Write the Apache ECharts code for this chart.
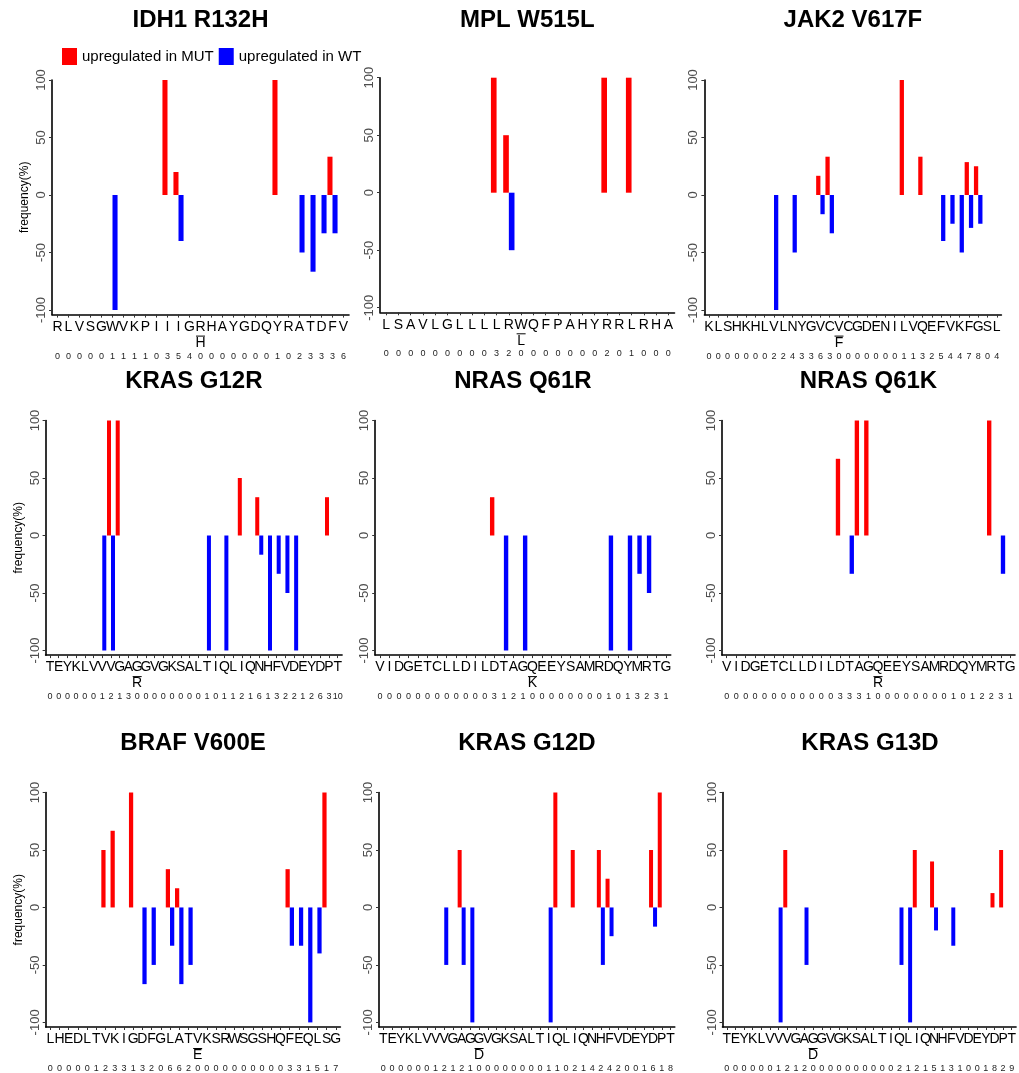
<!DOCTYPE html>
<html>
<head>
<meta charset="utf-8">
<script src="https://cdn.jsdelivr.net/npm/echarts@6/dist/echarts.min.js"></script>
<style>
  html, body { margin: 0; padding: 0; background: #fff; }
  #chart { width: 1019px; height: 1073px; }
</style>
</head>
<body>
<div id="chart"></div>
<script>
// Peptide residues around each hotspot, per-residue counts and frequencies (%)
const idh1Title = 'IDH1 R132H';
const idh1Residues = 'RLVSGWVKPIIIGRHAYGDQYRATDFV'.split('');
const idh1Mutation = { index: 13, residue: 'H' };
const idh1Counts = [0,0,0,0,0,1,1,1,1,0,3,5,4,0,0,0,0,0,0,0,1,0,2,3,3,3,6];
const idh1UpMut = [0,0,0,0,0,0,0,0,0,0,100,20,0,0,0,0,0,0,0,0,100,0,0,0,0,33.3,0];
const idh1UpWt  = [0,0,0,0,0,-100,0,0,0,0,0,-40,0,0,0,0,0,0,0,0,0,0,-50,-66.7,-33.3,-33.3,0];

const mplTitle = 'MPL W515L';
const mplResidues = 'LSAVLGLLLLRWQFPAHYRRLRHA'.split('');
const mplMutation = { index: 11, residue: 'L' };
const mplCounts = [0,0,0,0,0,0,0,0,0,3,2,0,0,0,0,0,0,0,2,0,1,0,0,0];
const mplUpMut = [0,0,0,0,0,0,0,0,0,100,50,0,0,0,0,0,0,0,100,0,100,0,0,0];
const mplUpWt  = [0,0,0,0,0,0,0,0,0,0,-50,0,0,0,0,0,0,0,0,0,0,0,0,0];

const jak2Title = 'JAK2 V617F';
const jak2Residues = 'KLSHKHLVLNYGVCVCGDENILVQEFVKFGSL'.split('');
const jak2Mutation = { index: 14, residue: 'F' };
const jak2Counts = [0,0,0,0,0,0,0,2,2,4,3,3,6,3,0,0,0,0,0,0,0,1,1,3,2,5,4,4,7,8,0,4];
const jak2UpMut = [0,0,0,0,0,0,0,0,0,0,0,0,16.7,33.3,0,0,0,0,0,0,0,100,0,33.3,0,0,0,0,28.6,25,0,0];
const jak2UpWt  = [0,0,0,0,0,0,0,-100,0,-50,0,0,-16.7,-33.3,0,0,0,0,0,0,0,0,0,0,0,-40,-25,-50,-28.6,-25,0,0];

const krasG12rTitle = 'KRAS G12R';
const krasG12rResidues = 'TEYKLVVVGAGGVGKSALTIQLIQNHFVDEYDPT'.split('');
const krasG12rMutation = { index: 10, residue: 'R' };
const krasG12rCounts = [0,0,0,0,0,0,1,2,1,3,0,0,0,0,0,0,0,0,1,0,1,1,2,1,6,1,3,2,2,1,2,6,3,10];
const krasG12rUpMut = [0,0,0,0,0,0,0,100,100,0,0,0,0,0,0,0,0,0,0,0,0,0,50,0,33.3,0,0,0,0,0,0,0,33.3,0];
const krasG12rUpWt  = [0,0,0,0,0,0,-100,-100,0,0,0,0,0,0,0,0,0,0,-100,0,-100,0,0,0,-16.7,-100,-33.3,-50,-100,0,0,0,0,0];

const nrasQ61rTitle = 'NRAS Q61R';
const nrasQ61rResidues = 'VIDGETCLLDILDTAGQEEYSAMRDQYMRTG'.split('');
const nrasQ61rMutation = { index: 16, residue: 'K' };
const nrasQ61rCounts = [0,0,0,0,0,0,0,0,0,0,0,0,3,1,2,1,0,0,0,0,0,0,0,0,1,0,1,3,2,3,1];
const nrasQ61rUpMut = [0,0,0,0,0,0,0,0,0,0,0,0,33.3,0,0,0,0,0,0,0,0,0,0,0,0,0,0,0,0,0,0];
const nrasQ61rUpWt  = [0,0,0,0,0,0,0,0,0,0,0,0,0,-100,0,-100,0,0,0,0,0,0,0,0,-100,0,-100,-33.3,-50,0,0];

const nrasQ61kTitle = 'NRAS Q61K';
const nrasQ61kResidues = 'VIDGETCLLDILDTAGQEEYSAMRDQYMRTG'.split('');
const nrasQ61kMutation = { index: 16, residue: 'R' };
const nrasQ61kCounts = [0,0,0,0,0,0,0,0,0,0,0,0,3,3,3,1,0,0,0,0,0,0,0,0,1,0,1,2,2,3,1];
const nrasQ61kUpMut = [0,0,0,0,0,0,0,0,0,0,0,0,66.7,0,100,100,0,0,0,0,0,0,0,0,0,0,0,0,100,0,0];
const nrasQ61kUpWt  = [0,0,0,0,0,0,0,0,0,0,0,0,0,-33.3,0,0,0,0,0,0,0,0,0,0,0,0,0,0,0,-33.3,0];

const brafTitle = 'BRAF V600E';
const brafResidues = 'LHEDLTVKIGDFGLATVKSRWSGSHQFEQLSG'.split('');
const brafMutation = { index: 16, residue: 'E' };
const brafCounts = [0,0,0,0,0,1,2,3,3,1,3,2,0,6,6,2,0,0,0,0,0,0,0,0,0,0,3,3,1,5,1,7];
const brafUpMut = [0,0,0,0,0,0,50,66.7,0,100,0,0,0,33.3,16.7,0,0,0,0,0,0,0,0,0,0,0,33.3,0,0,0,100,0];
const brafUpWt  = [0,0,0,0,0,0,0,0,0,0,-66.7,-50,0,-33.3,-66.7,-50,0,0,0,0,0,0,0,0,0,0,-33.3,-33.3,-100,-40,0,0];

const krasG12dTitle = 'KRAS G12D';
const krasG12dResidues = 'TEYKLVVVGAGGVGKSALTIQLIQNHFVDEYDPT'.split('');
const krasG12dMutation = { index: 11, residue: 'D' };
const krasG12dCounts = [0,0,0,0,0,0,1,2,1,2,1,0,0,0,0,0,0,0,0,1,1,0,2,1,4,2,4,2,0,0,1,6,1,8];
const krasG12dUpMut = [0,0,0,0,0,0,0,0,0,50,0,0,0,0,0,0,0,0,0,0,100,0,50,0,0,50,25,0,0,0,0,50,100,0];
const krasG12dUpWt  = [0,0,0,0,0,0,0,-50,0,-50,-100,0,0,0,0,0,0,0,0,-100,0,0,0,0,0,-50,-25,0,0,0,0,-16.7,0,0];

const krasG13dTitle = 'KRAS G13D';
const krasG13dResidues = 'TEYKLVVVGAGGVGKSALTIQLIQNHFVDEYDPT'.split('');
const krasG13dMutation = { index: 10, residue: 'D' };
const krasG13dCounts = [0,0,0,0,0,0,1,2,1,2,0,0,0,0,0,0,0,0,0,0,2,1,2,1,5,1,3,1,0,0,1,8,2,9];
const krasG13dUpMut = [0,0,0,0,0,0,0,50,0,0,0,0,0,0,0,0,0,0,0,0,0,0,50,0,40,0,0,0,0,0,0,12.5,50,0];
const krasG13dUpWt  = [0,0,0,0,0,0,-100,0,0,-50,0,0,0,0,0,0,0,0,0,0,-50,-100,0,0,-20,0,-33.3,0,0,0,0,0,0,0];

const yTickValues = [-100, -50, 0, 50, 100];
const legendMut = 'upregulated in MUT';
const legendWt = 'upregulated in WT';

const panels = [
  { title: idh1Title, res: idh1Residues, mut: idh1Mutation, counts: idh1Counts, up: idh1UpMut, down: idh1UpWt },
  { title: mplTitle, res: mplResidues, mut: mplMutation, counts: mplCounts, up: mplUpMut, down: mplUpWt },
  { title: jak2Title, res: jak2Residues, mut: jak2Mutation, counts: jak2Counts, up: jak2UpMut, down: jak2UpWt },
  { title: krasG12rTitle, res: krasG12rResidues, mut: krasG12rMutation, counts: krasG12rCounts, up: krasG12rUpMut, down: krasG12rUpWt },
  { title: nrasQ61rTitle, res: nrasQ61rResidues, mut: nrasQ61rMutation, counts: nrasQ61rCounts, up: nrasQ61rUpMut, down: nrasQ61rUpWt },
  { title: nrasQ61kTitle, res: nrasQ61kResidues, mut: nrasQ61kMutation, counts: nrasQ61kCounts, up: nrasQ61kUpMut, down: nrasQ61kUpWt },
  { title: brafTitle, res: brafResidues, mut: brafMutation, counts: brafCounts, up: brafUpMut, down: brafUpWt },
  { title: krasG12dTitle, res: krasG12dResidues, mut: krasG12dMutation, counts: krasG12dCounts, up: krasG12dUpMut, down: krasG12dUpWt },
  { title: krasG13dTitle, res: krasG13dResidues, mut: krasG13dMutation, counts: krasG13dCounts, up: krasG13dUpMut, down: krasG13dUpWt }
];

// Plot boxes (px): left edge, width, top (y = 100), bottom (x axis line), title centre y
const boxes = [
  { left: 52,    width: 297,   top: 80,    bottom: 314.6,  titleY: 22 },
  { left: 380,   width: 294.5, top: 77.7,  bottom: 312.3,  titleY: 22 },
  { left: 704.4, width: 297,   top: 80,    bottom: 314.6,  titleY: 22 },
  { left: 45.6,  width: 296.5, top: 420.5, bottom: 655.1,  titleY: 383 },
  { left: 375.2, width: 295.5, top: 420.5, bottom: 655.1,  titleY: 383 },
  { left: 722,   width: 293,   top: 420.5, bottom: 655.1,  titleY: 383 },
  { left: 45.7,  width: 294.7, top: 792.5, bottom: 1027.1, titleY: 745 },
  { left: 379,   width: 295.8, top: 792.5, bottom: 1027.1, titleY: 745 },
  { left: 722.5, width: 295,   top: 792.5, bottom: 1027.1, titleY: 745 }
];

const FONT = 'Liberation Sans, Arial, sans-serif';
const RED = '#FF0000';
const BLUE = '#0000FF';

const grids = [], xAxes = [], yAxes = [], series = [], titles = [];

panels.forEach((p, k) => {
  const b = boxes[k];
  grids.push({ left: b.left, top: b.top, width: b.width, height: b.bottom - b.top, containLabel: false });
  titles.push({
    text: p.title,
    left: b.left + b.width / 2,
    top: b.titleY - 14,
    textAlign: 'center',
    padding: 0,
    textStyle: { fontFamily: FONT, fontWeight: 'bold', fontSize: 24, color: '#000' }
  });
  xAxes.push({
    type: 'category',
    gridIndex: k,
    data: p.res,
    position: 'bottom',
    axisLine: { show: true, onZero: false, lineStyle: { color: '#000', width: 1.6 } },
    axisTick: { show: true, alignWithLabel: true, length: 3, lineStyle: { color: '#333', width: 1 } },
    axisLabel: {
      interval: 0,
      margin: 5,
      formatter: (v, i) => {
        const mutLine = i === p.mut.index ? '{ol| }\n{mu|' + p.mut.residue + '}' : '{gp| }\n{mu| }';
        return '{aa|' + v + '}\n' + mutLine + '\n{nm|' + p.counts[i] + '}';
      },
      rich: {
        aa: { fontFamily: FONT, fontSize: 14, lineHeight: 15, color: '#000' },
        ol: { width: 9, height: 1, backgroundColor: '#000', lineHeight: 3, fontSize: 3 },
        gp: { lineHeight: 3, fontSize: 3 },
        mu: { fontFamily: FONT, fontSize: 14, lineHeight: 11, color: '#000' },
        nm: { fontFamily: FONT, fontSize: 9, lineHeight: 15, color: '#222' }
      }
    },
    splitLine: { show: false }
  });
  yAxes.push({
    type: 'value',
    gridIndex: k,
    min: -104,
    max: 100,
    axisLine: { show: true, lineStyle: { color: '#000', width: 1.6 } },
    axisTick: { show: true, length: 3, customValues: yTickValues, lineStyle: { color: '#333' } },
    axisLabel: { rotate: 90, customValues: yTickValues, color: '#4D4D4D', fontFamily: FONT, fontSize: 13, margin: 4 },
    splitLine: { show: false },
    name: k % 3 === 0 ? 'frequency(%)' : '',
    nameLocation: 'middle',
    nameGap: 21,
    nameTextStyle: { fontFamily: FONT, fontSize: 12, color: '#000' }
  });
  series.push({
    name: legendMut, type: 'bar', xAxisIndex: k, yAxisIndex: k,
    data: p.up, barWidth: '46%', barGap: '0%', itemStyle: { color: RED }, silent: true
  });
  series.push({
    name: legendWt, type: 'bar', xAxisIndex: k, yAxisIndex: k,
    data: p.down, barWidth: '46%', barGap: '0%', itemStyle: { color: BLUE }, silent: true
  });
});

const chart = echarts.init(document.getElementById('chart'), null, { renderer: 'canvas' });
chart.setOption({
  animation: false,
  backgroundColor: '#fff',
  title: titles,
  legend: {
    data: [legendMut, legendWt],
    left: 62,
    top: 48,
    padding: 0,
    itemWidth: 15,
    itemHeight: 17,
    itemGap: 5,
    icon: 'rect',
    textStyle: { fontFamily: FONT, fontSize: 15, color: '#000' }
  },
  grid: grids,
  xAxis: xAxes,
  yAxis: yAxes,
  series: series
});
</script>
</body>
</html>
